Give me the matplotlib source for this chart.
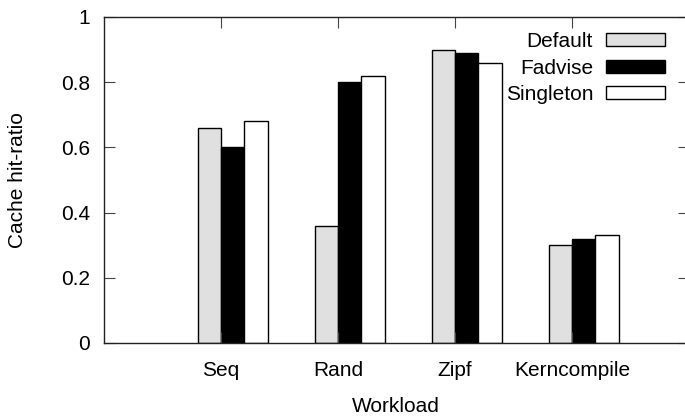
import numpy as np
import matplotlib
matplotlib.use("Agg")
import matplotlib.pyplot as plt
from matplotlib.patches import Patch

plt.rcParams["font.family"] = ["Liberation Sans", "DejaVu Sans"]

workloads = ["Seq", "Rand", "Zipf", "Kerncompile"]
series = ["Default", "Fadvise", "Singleton"]
default = [0.66, 0.36, 0.90, 0.30]
fadvise = [0.60, 0.80, 0.89, 0.32]
singleton = [0.68, 0.82, 0.86, 0.33]
fills = ["#e0e0e0", "black", "white"]

W, H = 685, 418
fig = plt.figure(figsize=(W / 100, H / 100), dpi=100)
# frame runs slightly past the right edge of the canvas
ax = fig.add_axes([104 / W, 75 / H, 585 / W, 326 / H])

x = np.arange(len(workloads))
width = 0.2
for i, (vals, fc) in enumerate(zip([default, fadvise, singleton], fills)):
    ax.bar(x - 0.1 + i * width, vals, width, color=fc, edgecolor="black",
           linewidth=1.0, label=series[i])

ax.set_xlim(-1, 4)
ax.set_ylim(0, 1)
ax.set_xticks(x)
ax.set_xticklabels(workloads)
ax.set_yticks([0, 0.2, 0.4, 0.6, 0.8, 1.0])
ax.set_yticklabels(["0", "0.2", "0.4", "0.6", "0.8", "1"])
ax.tick_params(direction="in", length=8, width=0.8, color="#444444",
               top=True, right=True, labelsize=15)
ax.tick_params(axis="x", pad=13)
ax.tick_params(axis="y", pad=10)
for s in ax.spines.values():
    s.set_linewidth(1.0)
    s.set_color("#222222")

fig.text(18 / W, 1 - 180 / H, "Cache hit-ratio", rotation=90, fontsize=15,
         ha="center", va="center")
fig.text(396 / W, 1 - 407 / H, "Workload", fontsize=15, ha="center", va="center")

handles = [Patch(facecolor=fc, edgecolor="black", linewidth=1.0) for fc in fills]
ax.legend(handles, series, loc="upper right", bbox_to_anchor=(665 / W, 1 - 32 / H),
          bbox_transform=fig.transFigure, frameon=False, markerfirst=False,
          fontsize=15, handlelength=2.85, handleheight=0.6, handletextpad=0.6,
          labelspacing=0.36, borderaxespad=0, borderpad=0)

fig.savefig("out.png", dpi=100)
